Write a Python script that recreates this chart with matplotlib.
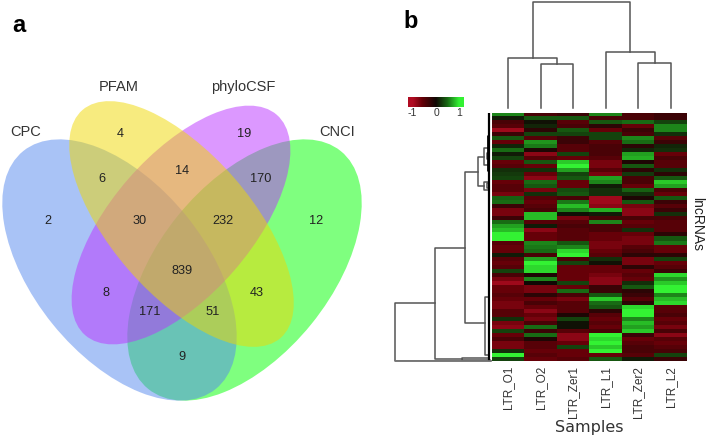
import matplotlib
matplotlib.use('Agg')
import matplotlib.pyplot as plt
import numpy as np
from matplotlib.colors import LinearSegmentedColormap
from matplotlib.patches import Ellipse

W, H = 709, 436

# Venn panel
venn_names = ['CPC', 'PFAM', 'phyloCSF', 'CNCI']
region_counts = [4, 19, 2, 6, 14, 170, 12, 30, 232, 839, 8, 171, 51, 43, 9]

# Heatmap panel, one list per sample, top row first
samples = ['LTR_O1', 'LTR_O2', 'LTR_Zer1', 'LTR_L1', 'LTR_Zer2', 'LTR_L2']
ltr_o1 = [.6, .1, -.4, -.5, -.9, -.3, .4, -.6, .15, .5, .1, .3, -.6, -.5, .2, .25,
          .3, -.6, -.5, -.5, -.7, .45, .5, -.3, -.7, -.7, -.3, .5, .7, .8, 1, 1,
          -.5, -.6, -.6, .1, -.5, -.6, -.5, .3, -.4, -.7, -.9, -.6, -.6, -.5, -.6, -.7,
          -.7, -.5, -.5, .2, -.7, -.8, .3, -.6, -.4, -.7, -.7, .2, 1, .3]
ltr_o2 = [-.4, .4, .05, .15, -.2, .3, -.5, .65, .55, -.1, -.8, -.5, .4, -.6, .2, -.6,
          -.8, .5, .4, -.7, .2, -.5, -.6, -.5, -.4, .8, .8, -.5, .1, -.8, -.6, -.6,
          .6, .55, .5, -.4, .7, 1, .9, .9, -.1, .6, 0, -.7, -.7, -.2, -.6, -.4,
          -.6, -.8, -.6, -.7, -.4, .5, -.3, .5, -.1, -.5, -.5, -.6, -.5, -.6]
ltr_zer1 = [-.3, .4, -.5, -.4, .4, .3, -.3, -.3, -.5, -.5, .3, -.6, .85, 1, .7, .3,
            .4, -.6, -.6, .35, .4, -.4, .55, .8, .6, .05, -.7, -.5, -.4, -.5, -.5, -.5,
            .4, .6, .9, 1, -.4, .3, -.6, -.6, -.6, -.6, .3, -.6, .5, -.4, -.7, -.5,
            -.5, -.5, -.1, .3, .05, .05, -.5, -.8, -.8, -.6, .3, -.6, -.6, -.5]
ltr_l1 = [.6, -.4, .4, -.2, -.6, .3, .3, -.5, -.4, -.4, -.4, -.5, -.7, -.7, -.5, -.7,
          .7, .6, .1, .2, .2, -.9, -.9, -.8, .75, .1, -.4, .6, -.4, -.4, -.6, -.6,
          -.7, -.7, -.6, -.5, .2, .05, -.6, -.6, -.7, -.8, -.8, -.3, -.3, .4, .85, .5,
          .4, -.2, -.5, -.6, -.5, -.6, -.4, 1, .9, 1, .85, 1, -.6, .4]
ltr_zer2 = [-.4, -.4, .5, -.6, -.3, -.4, .6, .5, -.2, .15, .7, .75, -.1, .4, -.2, .25,
            -.4, -.4, -.6, .45, .2, -.1, .4, -.7, -.8, -.8, -.4, -.6, -.5, .2, -.6, -.7,
            -.7, -.5, -.4, -.2, -.7, -.7, -.2, -.6, -.5, -.6, .2, .4, -.2, -.3, -.5, -.2,
            .9, 1, 1, .6, .8, .7, .85, -.3, -.6, -.5, -.4, -.4, -.5, .1]
ltr_l2 = [-.3, -.3, .3, .6, .6, .2, -.5, -.3, .15, .2, -.6, -.4, -.5, -.5, .2, -.2,
          .4, .85, .7, -.4, -.6, .4, -.3, -.5, -.3, .2, -.4, -.5, -.5, -.5, -.2, .4,
          .55, -.6, -.6, -.2, .3, -.6, -.5, -.3, .9, .65, .85, 1, 1, .6, .8, .9,
          -.5, -.5, -.4, -.6, -.5, -.7, -.4, -.8, -.5, -.6, -.5, -.4, .3, -.3]
heat_values = np.array([ltr_o1, ltr_o2, ltr_zer1, ltr_l1, ltr_zer2, ltr_l2]).T

# sample tree: left node, right node, height (nodes 6+ are earlier merges)
col_merges = [(1, 2, 44), (0, 6, 50), (4, 5, 45), (3, 8, 56), (7, 9, 106)]

# gene tree: top row, bottom row, height, top arm end, bottom arm end
row_merges = [
    (47, 61.4, 97, 57, 1),
    (33.3, 61, 57, 27, 30),
    (14.3, 52, 27, 14, 7),
    (10.5, 17.8, 14, 8, 8),
    (8.3, 12.5, 8, 3, 3),
    (16.8, 18.8, 8, 3, 3),
    (60.7, 61.3, 30, 3, 2),
    (45.5, 60, 7, 3, 3),
    (9.5, 11, 5, 3, 3),
    (17, 18.2, 5, 3, 3),
]

plt.rcParams['font.family'] = ['Liberation Sans', 'DejaVu Sans']
fig = plt.figure(figsize=(W / 100, H / 100), dpi=100)


def px_axes(x0, y0, x1, y1):
    # axes placed by pixel box, y counted from the top of the image
    ax = fig.add_axes([x0 / W, 1 - y1 / H, (x1 - x0) / W, (y1 - y0) / H])
    ax.axis('off')
    return ax


# Venn ellipses, drawn green first so the overlaps mix like the original
canvas = px_axes(0, 0, W, H)
canvas.set_xlim(0, W)
canvas.set_ylim(H, 0)
venn_shapes = [
    ((244.5, 270), 306, 172, -51, '#00ff00'),
    ((119.5, 270), 306, 172, 51, '#5588ee'),
    ((181, 225), 292, 140, -49, '#bb33ff'),
    ((181.5, 224), 302, 140, 49, '#f0d800'),
]
for xy, w, h, angle, color in venn_shapes:
    canvas.add_patch(Ellipse(xy, w, h, angle=angle, facecolor=color, edgecolor='none', alpha=0.5))

name_xy = [(26, 132), (119, 87), (243, 87), (337, 132)]
for name, xy in zip(venn_names, name_xy):
    canvas.text(xy[0], xy[1], name, fontsize=10.5, color='#333333', ha='center', va='center')

region_xy = [(120, 134), (244, 134), (48, 221), (102, 179), (182, 171), (261, 179), (316, 221),
             (140, 221), (223, 221), (182, 271), (106, 293), (150, 312), (213, 312), (257, 293),
             (182, 357)]
for count, xy in zip(region_counts, region_xy):
    canvas.text(xy[0], xy[1], str(count), fontsize=9.2, color='#222222', ha='center', va='center')

canvas.text(19, 25, 'a', fontsize=17, fontweight='bold', color='black', ha='center', va='center')
canvas.text(411, 21, 'b', fontsize=17, fontweight='bold', color='black', ha='center', va='center')
canvas.text(697, 224, 'lncRNAs', fontsize=10, color='#222222', rotation=-90, ha='center', va='center')
canvas.text(589, 427, 'Samples', fontsize=11.5, family='DejaVu Sans', color='#333333', ha='center', va='center')

# Heatmap
red_green = LinearSegmentedColormap.from_list(
    'red_green', [(0, '#b00c22'), (0.2, '#660008'), (0.5, '#100804'), (0.75, '#186a14'), (1, '#33f233')])
ax_heat = px_axes(492, 113, 687, 361)
ax_heat.imshow(heat_values, cmap=red_green, vmin=-1, vmax=1, aspect='auto', interpolation='nearest')

for i, name in enumerate(samples):
    canvas.text(508 + i * 32.6, 366, name, fontsize=8.5, color='#333333', rotation=90, ha='center', va='top')

# Colour key
ax_key = px_axes(408, 97, 464, 107)
ax_key.imshow(np.linspace(-1.2, 1.2, 200)[None, :], cmap=red_green, vmin=-1, vmax=1,
              aspect='auto', extent=(-1.2, 1.2, 0, 1))
for value in [-1, 0, 1]:
    ax_key.text(value, -0.15, str(value), fontsize=7.5, color='#333333', ha='center', va='top')

# Sample dendrogram
ax_top = px_axes(492, 2, 687, 108)
ax_top.set_xlim(-0.5, 5.5)
ax_top.set_ylim(0, 106)
node_pos = {i: (float(i), 0) for i in range(len(samples))}
for k, (left, right, height) in enumerate(col_merges):
    x0, h0 = node_pos[left]
    x1, h1 = node_pos[right]
    ax_top.plot([x0, x0, x1, x1], [h0, height, height, h1], color='#555555', lw=1.1, clip_on=False)
    node_pos[len(samples) + k] = ((x0 + x1) / 2, height)

# Gene dendrogram
ax_left = px_axes(390, 113, 492, 361)
ax_left.set_xlim(102, 0)
ax_left.set_ylim(61.5, -0.5)
for top, bottom, height, arm_top, arm_bottom in row_merges:
    ax_left.plot([arm_top, height, height, arm_bottom], [top, top, bottom, bottom],
                 color='#555555', lw=1.1, clip_on=False)
ax_left.plot([3.5, 3.5], [-0.5, 61.5], color='black', lw=1.6, solid_capstyle='butt')
ax_left.plot([4, 4], [5, 14], color='black', lw=2, solid_capstyle='butt')
ax_left.plot([0, 97], [61.5, 61.5], color='#777777', lw=1.2)

fig.savefig('out.png', dpi=100)
